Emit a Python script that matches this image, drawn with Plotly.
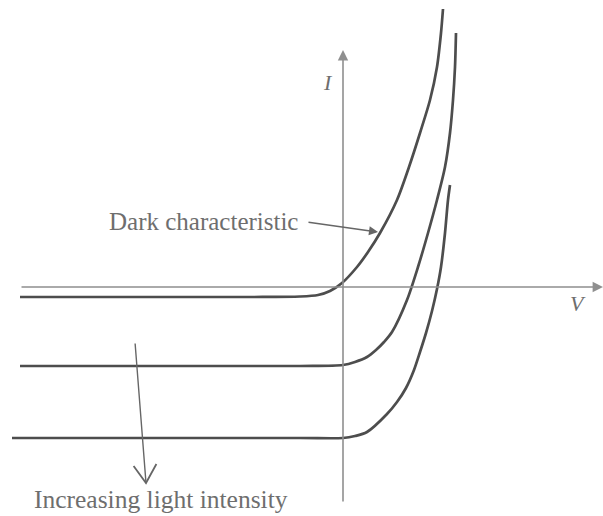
import plotly.graph_objects as go

# Dark characteristic (V, I)
dark_v = [-1.615, -0.465, -0.215, -0.125, -0.065, -0.005, 0.07, 0.125, 0.185, 0.27, 0.33, 0.385, 0.435, 0.47, 0.49, 0.50]
dark_i = [-0.10, -0.10, -0.095, -0.08, -0.04, 0.04, 0.20, 0.35, 0.54, 0.87, 1.20, 1.54, 1.87, 2.20, 2.54, 2.78]

# Illuminated, medium intensity
mid_v = [-1.615, -0.215, 0.0, 0.06, 0.12, 0.165, 0.205, 0.245, 0.32, 0.375, 0.425, 0.47, 0.51, 0.535, 0.55, 0.56, 0.565]
mid_i = [-0.79, -0.79, -0.78, -0.75, -0.70, -0.63, -0.55, -0.45, -0.13, 0.20, 0.54, 0.87, 1.20, 1.54, 1.87, 2.20, 2.54]

# Illuminated, high intensity
high_v = [-1.655, -0.215, 0.0, 0.06, 0.12, 0.22, 0.27, 0.315, 0.355, 0.385, 0.415, 0.445, 0.47, 0.49, 0.51, 0.525, 0.535]
high_i = [-1.51, -1.51, -1.51, -1.49, -1.45, -1.27, -1.15, -1.01, -0.83, -0.65, -0.46, -0.24, -0.02, 0.20, 0.54, 0.87, 1.02]

curve_color = "#4d4d4d"
axis_color = "#8f8f8f"
text_color = "#6e6e6e"
serif = "Liberation Serif, Times New Roman, serif"

fig = go.Figure()
for v, i in [(dark_v, dark_i), (mid_v, mid_i), (high_v, high_i)]:
    fig.add_trace(go.Scatter(x=v, y=i, mode="lines",
                             line=dict(color=curve_color, width=2.7, shape="spline", smoothing=0.8),
                             hoverinfo="skip", showlegend=False))

tip_x, tip_y = -0.985, -1.96
annotations = [
    # V axis
    dict(x=1.30, y=0.0, ax=-1.615, ay=0.0, xref="x", yref="y", axref="x", ayref="y",
         text="", showarrow=True, arrowhead=2, arrowsize=1.3, arrowwidth=1.6, arrowcolor=axis_color),
    # I axis
    dict(x=0.0, y=2.37, ax=0.0, ay=-2.16, xref="x", yref="y", axref="x", ayref="y",
         text="", showarrow=True, arrowhead=2, arrowsize=1.3, arrowwidth=1.6, arrowcolor=axis_color),
    dict(x=1.175, y=-0.16, xref="x", yref="y", text="<i>V</i>", showarrow=False,
         font=dict(family=serif, size=22, color=text_color)),
    dict(x=-0.075, y=2.05, xref="x", yref="y", text="<i>I</i>", showarrow=False,
         font=dict(family=serif, size=22, color=text_color)),
    # Dark characteristic label + arrow
    dict(x=-0.70, y=0.66, xref="x", yref="y", text="Dark characteristic", showarrow=False,
         font=dict(family=serif, size=25, color=text_color)),
    dict(x=0.175, y=0.55, ax=-0.18, ay=0.65, xref="x", yref="y", axref="x", ayref="y",
         text="", showarrow=True, arrowhead=2, arrowsize=1.2, arrowwidth=1.5, arrowcolor="#666666"),
    # Increasing light intensity label + arrow shaft
    dict(x=-0.91, y=-2.12, xref="x", yref="y", text="Increasing light intensity", showarrow=False,
         font=dict(family=serif, size=25.5, color=text_color)),
    dict(x=tip_x, y=tip_y, ax=-1.04, ay=-0.55, xref="x", yref="y", axref="x", ayref="y",
         text="", showarrow=True, arrowhead=0, arrowwidth=1.4, arrowcolor="#666666"),
]

# open V arrowhead at the tip of the light-intensity arrow
shapes = [
    dict(type="path", xref="x", yref="y",
         path=f"M {tip_x - 0.062},{tip_y + 0.17} L {tip_x},{tip_y} L {tip_x + 0.052},{tip_y + 0.19}",
         line=dict(color="#666666", width=1.8)),
]

fig.update_layout(
    width=603, height=516,
    margin=dict(l=0, r=0, t=0, b=0),
    paper_bgcolor="white", plot_bgcolor="white",
    xaxis=dict(range=[-1.715, 1.30], visible=False, fixedrange=True),
    yaxis=dict(range=[-2.29, 2.87], visible=False, fixedrange=True),
    annotations=annotations,
    shapes=shapes,
    showlegend=False,
)

fig.write_html("out.html", config={"displayModeBar": False},
               post_script="document.body.style.margin='0px';")
